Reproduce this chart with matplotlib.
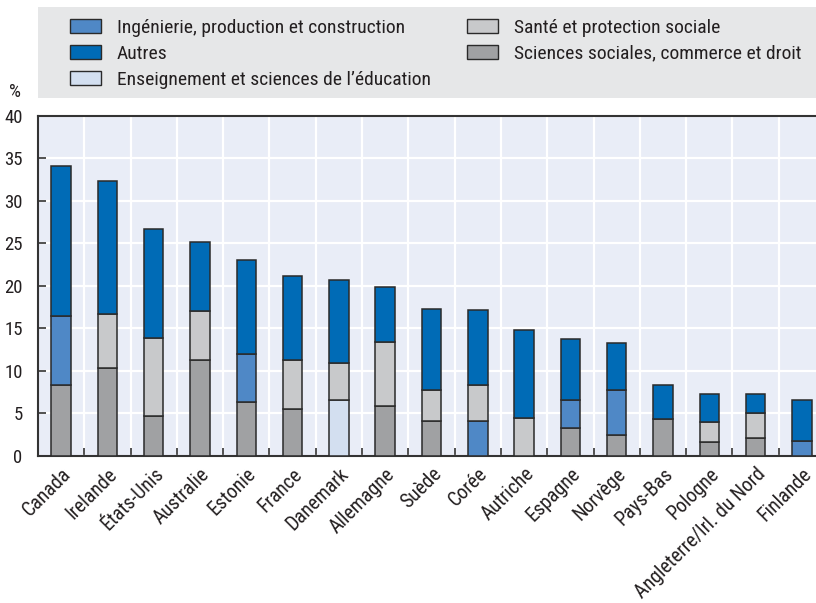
import matplotlib
matplotlib.use("Agg")
import matplotlib.pyplot as plt
from matplotlib.patches import Patch, Rectangle
from matplotlib.transforms import ScaledTranslation
from matplotlib import font_manager
import numpy as np

countries = ["Canada", "Irelande", "États-Unis", "Australie", "Estonie", "France",
             "Danemark", "Allemagne", "Suède", "Corée", "Autriche", "Espagne",
             "Norvège", "Pays-Bas", "Pologne", "Angleterre/Irl. du Nord", "Finlande"]
social = [8.4, 10.3, 4.7, 11.3, 6.3, 5.5, 0, 5.9, 4.1, 0, 0, 3.3, 2.5, 4.35, 1.65, 2.15, 0]
education = [0, 0, 0, 0, 0, 0, 6.6, 0, 0, 0, 0, 0, 0, 0, 0, 0, 0]
engineering = [8.0, 0, 0, 0, 5.7, 0, 0, 0, 0, 4.1, 0, 3.3, 5.2, 0, 0, 0, 1.76]
sante = [0, 6.4, 9.2, 5.7, 0, 5.8, 4.3, 7.5, 3.7, 4.3, 4.5, 0, 0, 0, 2.3, 2.95, 0]
autres = [17.7, 15.65, 12.8, 8.2, 11.0, 9.9, 9.8, 6.5, 9.5, 8.8, 10.3, 7.1, 5.6, 4.0, 3.3, 2.2, 4.8]

lab_social = "Sciences sociales, commerce et droit"
lab_edu = "Enseignement et sciences de l’éducation"
lab_eng = "Ingénierie, production et construction"
lab_sante = "Santé et protection sociale"
lab_autres = "Autres"

c_social = "#A0A1A3"
c_edu = "#D3DFF0"
c_eng = "#4F88C6"
c_sante = "#C8C9CB"
c_autres = "#006BB6"

fams = []
for f in ["Liberation Sans Narrow", "Roboto Condensed", "Open Sans Condensed"]:
    try:
        font_manager.findfont(f, fallback_to_default=False)
        fams.append(f)
        break
    except Exception:
        pass
plt.rcParams['font.family'] = fams + ['Liberation Sans', 'DejaVu Sans']
txt = "#231F20"
plt.rcParams['text.color'] = txt

fig = plt.figure(figsize=(8.16, 6.03), dpi=100)
W, H = 816, 603
ax = fig.add_axes([38 / W, (H - 456) / H, (825 - 38) / W, (456 - 115.7) / H])
ax.set_facecolor("#E9EDF7")

x = np.arange(len(countries))
bw = 0.42
bottom = np.zeros(len(countries))
for vals, col in [(social, c_social), (education, c_edu), (engineering, c_eng),
                  (sante, c_sante), (autres, c_autres)]:
    v = np.array(vals, dtype=float)
    m = v > 0
    ax.bar(x[m], v[m], bw, bottom=bottom[m], color=col, edgecolor="#2A2A2A",
           linewidth=1.1, zorder=3)
    bottom += v

tfs = 13.5
ax.set_xlim(-0.5, len(countries) - 0.5)
ax.set_ylim(0, 40)
ax.set_yticks(np.arange(0, 41, 5))
ax.set_xticks(x)
ax.set_xticklabels(countries, rotation=45, ha="right", va="top",
                   rotation_mode="anchor", fontsize=14.3, color=txt)
off = ScaledTranslation(7 / 100, -5 / 100, fig.dpi_scale_trans)
for lbl in ax.get_xticklabels():
    lbl.set_transform(lbl.get_transform() + off)
ax.set_xticks(np.arange(0.5, len(countries) - 0.5, 1), minor=True)
ax.tick_params(axis="x", which="major", length=0, pad=6)
ax.tick_params(axis="x", which="minor", direction="in", length=6, width=1.2, color="#333333")
ax.tick_params(axis="y", direction="in", length=6, width=1.2, color="#333333",
               labelsize=tfs, labelcolor=txt, pad=11)
ax.grid(True, axis="y", color="white", linewidth=1.6, zorder=1)
ax.grid(True, axis="x", which="minor", color="white", linewidth=1.6, zorder=1)
ax.set_axisbelow(True)
for s in ["left", "bottom", "top", "right"]:
    ax.spines[s].set_color("#333333")
    ax.spines[s].set_linewidth(1.5)

fig.text(15 / W, 1 - 92 / H, "%", fontsize=tfs, ha="center", va="center", color=txt)

# legend background
fig.patches.append(Rectangle((38 / W, 1 - 98 / H), (816 - 38) / W, 91 / H,
                             transform=fig.transFigure, facecolor="#E6E7E8",
                             edgecolor="none", zorder=0))

def h(c):
    return Patch(facecolor=c, edgecolor="#2A2A2A", linewidth=1.0)

fs = 14
common = dict(loc="upper left", frameon=False, fontsize=fs, handlelength=1.6,
              handleheight=0.75, handletextpad=0.8, labelspacing=0.4,
              borderpad=0, borderaxespad=0, labelcolor=txt)
leg1 = fig.legend([h(c_eng), h(c_autres), h(c_edu)], [lab_eng, lab_autres, lab_edu],
                  bbox_to_anchor=(70 / W, 1 - 19 / H), **common)
leg2 = fig.legend([h(c_sante), h(c_social)], [lab_sante, lab_social],
                  bbox_to_anchor=(467 / W, 1 - 19 / H), **common)

fig.savefig("out.png", dpi=100)
